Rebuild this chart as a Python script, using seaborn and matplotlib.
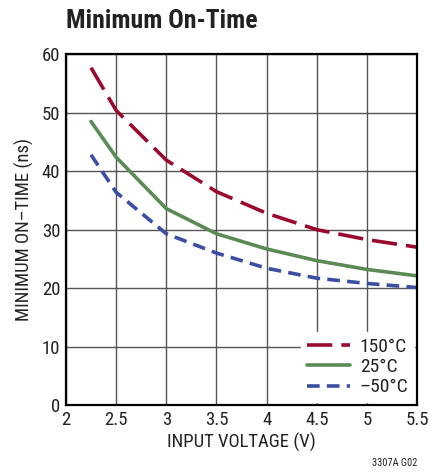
import matplotlib
matplotlib.use("Agg")
import matplotlib.pyplot as plt
import seaborn as sns
import pandas as pd

voltage = [2.25, 2.5, 3.0, 3.5, 4.0, 4.5, 5.0, 5.5]
t_150 = [57.7, 50.4, 41.9, 36.5, 32.8, 30.0, 28.3, 27.0]
t_25 = [48.5, 42.4, 33.6, 29.3, 26.7, 24.7, 23.2, 22.1]
t_m50 = [42.8, 36.4, 29.3, 26.0, 23.4, 21.7, 20.8, 20.1]
labels = ["150°C", "25°C", "–50°C"]
colors = ["#9a0a2f", "#5b8b55", "#3c4ea2"]
dashes = [(7, 2.5), "", (3.5, 2)]

df = pd.DataFrame({"v": voltage * 3,
                   "t": t_150 + t_25 + t_m50,
                   "temp": [labels[0]] * 8 + [labels[1]] * 8 + [labels[2]] * 8})

sns.set_style("white")
plt.rcParams['font.family'] = ['Roboto Condensed', 'DejaVu Sans']
plt.rcParams['text.color'] = 'black'
plt.rcParams['axes.labelcolor'] = 'black'

fig = plt.figure(figsize=(4.31, 4.76), dpi=100)
ax = fig.add_axes([0.153, 0.149, 0.815, 0.737])

sns.lineplot(data=df, x="v", y="t", hue="temp", style="temp",
             palette=colors, dashes=dashes, linewidth=2.6, ax=ax)

ax.set_xlim(2, 5.5)
ax.set_ylim(0, 60)
ax.set_xticks([2, 2.5, 3, 3.5, 4, 4.5, 5, 5.5])
ax.set_xticklabels(["2", "2.5", "3", "3.5", "4", "4.5", "5", "5.5"])
ax.set_yticks(range(0, 61, 10))
ax.grid(True, color="#555555", linewidth=1.0)
ax.set_axisbelow(True)
for s in ax.spines.values():
    s.set_color("black")
    s.set_linewidth(1.6)
ax.tick_params(axis="both", labelsize=13.5, length=0, pad=4, colors="#222222")
ax.set_xlabel("INPUT VOLTAGE (V)", fontsize=13.5, labelpad=3, color="#222222")
ax.set_ylabel("MINIMUM ON–TIME (ns)", fontsize=13.5, labelpad=6, color="#222222")

leg = ax.legend(loc="lower right", frameon=True, fontsize=14, handlelength=2.2,
                handletextpad=0.5, labelspacing=0.12, borderaxespad=0.15,
                borderpad=0.3, title=None)
leg.get_frame().set_edgecolor("white")
leg.get_frame().set_facecolor("white")
leg.get_frame().set_alpha(1)
for t in leg.get_texts():
    t.set_color("#222222")

fig.text(0.153, 0.955, "Minimum On-Time", fontsize=18.5, fontweight="bold",
         ha="left", va="center", color="#222222")
fig.text(0.968, 0.016, "3307A G02", fontsize=7.5, ha="right", va="bottom",
         color="#222222")

plt.savefig("out.png", dpi=100)
plt.close()
